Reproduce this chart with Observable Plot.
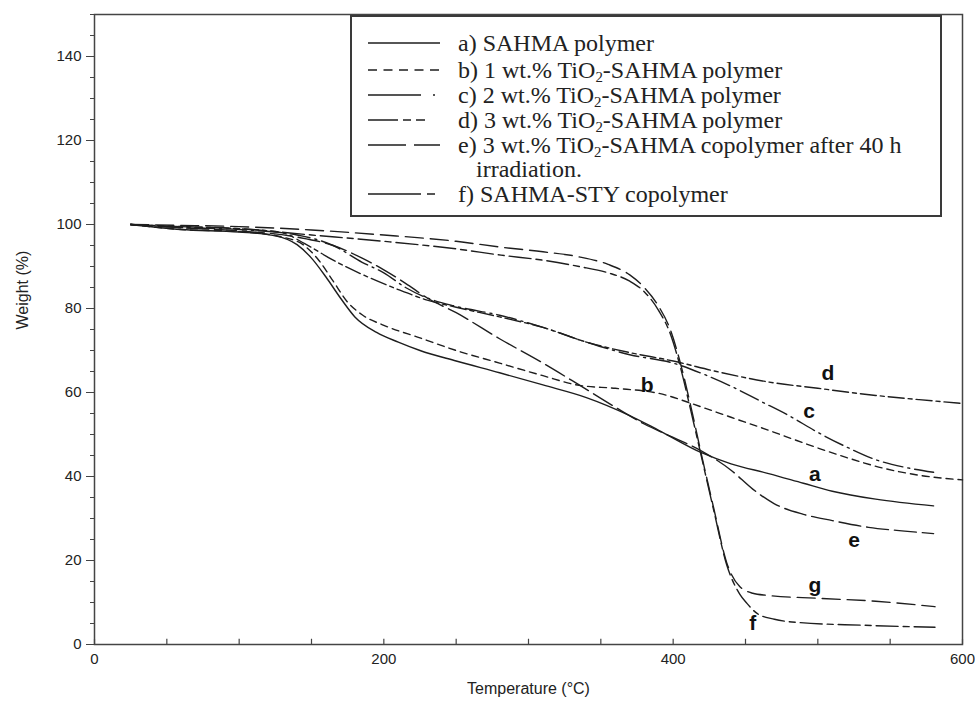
<!DOCTYPE html>
<html>
<head>
<meta charset="utf-8">
<script src="https://cdn.jsdelivr.net/npm/d3@7"></script>
<script src="https://cdn.jsdelivr.net/npm/@observablehq/plot@0.6"></script>
<style>
  body { margin: 0; background: #fff; }
  #wrap { position: relative; width: 975px; height: 702px; overflow: hidden; background: #fff; }
  #legend { position: absolute; left: 350px; top: 15px; width: 588px; height: 198px;
            border: 2px solid #3a3a3a; background: #fff;
            font-family: "Liberation Serif", "Times New Roman", serif; font-size: 24px; color: #222; }
  .row { position: absolute; left: 0; height: 24px; line-height: 24px; white-space: nowrap; }
  .row svg { position: absolute; left: 16px; top: 0; }
  .row span { position: absolute; left: 106px; top: 0; }
  .row sub { font-size: 0.62em; vertical-align: -0.25em; line-height: 0; }
</style>
</head>
<body>
<div id="wrap"><div id="plot"></div><div id="legend"></div></div>
<script>
// ---- data ----
// a) SAHMA polymer
const aT = [25, 60, 100, 125, 140, 150, 160, 170, 180, 195, 210, 225, 250, 280, 310, 340, 370, 390, 420, 440, 466, 490, 510, 540, 580];
const aW = [100, 98.8, 98.2, 97.3, 95.2, 92, 87.5, 82.5, 78, 74.3, 72, 70, 67.5, 64.7, 61.8, 58.8, 54.5, 51, 45.6, 43, 40.7, 38.4, 36.5, 34.6, 33];
// b) 1 wt.% TiO2-SAHMA polymer
const bT = [25, 60, 100, 130, 145, 155, 165, 175, 185, 200, 225, 250, 280, 310, 335, 360, 390, 420, 440, 466, 490, 520, 545, 570, 600];
const bW = [100, 98.8, 98.3, 97, 95, 91.5, 86.5, 81.5, 78.5, 76, 73, 70, 67, 64, 61.7, 61, 59.8, 56.5, 54.1, 51, 48, 44.5, 42, 40.3, 39.2];
// c) 2 wt.% TiO2-SAHMA polymer
const cT = [25, 60, 100, 140, 165, 185, 200, 215, 230, 250, 280, 310, 340, 370, 400, 420, 440, 460, 480, 500, 520, 540, 560, 580];
const cW = [100, 99.3, 98.8, 97.5, 95, 91, 88.5, 85, 82.5, 80.5, 78.4, 75.5, 72, 69, 67, 64.5, 61.5, 58, 54.5, 50.5, 47, 44, 42.2, 41];
// d) 3 wt.% TiO2-SAHMA polymer
const dT = [25, 60, 100, 130, 145, 165, 189, 210, 230, 250, 280, 310, 340, 370, 400, 430, 466, 500, 540, 570, 600];
const dW = [100, 99.5, 99, 98, 95.5, 91.5, 87.5, 84.5, 82, 80.3, 78, 75.5, 72, 69.5, 67.5, 65, 62.5, 61, 59.3, 58.3, 57.4];
// e) 3 wt.% TiO2-SAHMA copolymer after 40 h irradiation
const eT = [25, 60, 100, 140, 165, 185, 200, 215, 230, 250, 280, 310, 335, 360, 380, 400, 420, 440, 455, 470, 490, 510, 535, 560, 580];
const eW = [100, 99.2, 98.5, 97, 95, 92, 89.2, 86, 82.5, 79, 72.8, 67, 61.8, 56.5, 52.5, 49.3, 46, 41.5, 37, 33.5, 31, 29.5, 27.9, 27, 26.4];
// f) SAHMA-STY copolymer
const fT = [25, 60, 100, 150, 200, 250, 281, 310, 335, 355, 370, 380, 390, 398, 405, 412, 420, 428, 437, 446, 451, 458, 470, 488, 530, 581];
const fW = [100, 99.5, 99, 97.5, 96, 94.2, 92.7, 91.5, 90, 88.5, 86.5, 84, 79.5, 74, 66, 56, 44, 32, 19, 12, 9.8, 7.4, 6, 5.2, 4.6, 4.1];
// g) (unlabelled in legend)
const gT = [25, 60, 100, 150, 200, 250, 281, 310, 335, 355, 370, 380, 390, 398, 405, 412, 420, 428, 437, 446, 455, 465, 500, 540, 581];
const gW = [100, 99.8, 99.5, 98.7, 97.5, 96, 94.6, 93.5, 92.3, 90.5, 88, 85, 80.5, 75, 67, 57, 44.5, 32.5, 19.5, 13.8, 12.2, 11.7, 11, 10.3, 9];

// curve letters placed on the chart
const curveLetters = ["a", "b", "c", "d", "e", "f", "g"];
const letterT = [498, 382, 494, 507, 525, 455, 498];
const letterW = [40.5, 61.7, 55.5, 64.6, 24.8, 5.0, 14.1];

// ticks
const xMajorTicks = [0, 200, 400, 600];
const xMinorTicks = [0, 50, 100, 150, 200, 250, 300, 350, 400, 450, 500, 550, 600];
const yMajorTicks = [0, 20, 40, 60, 80, 100, 120, 140];
const yMinorTicks = d3.range(0, 151, 5);

// legend text
const legendKeys = ["a", "b", "c", "d", "e", "", "f"];
const legendLabels = [
  "a) SAHMA polymer",
  "b) 1 wt.% TiO<sub>2</sub>-SAHMA polymer",
  "c) 2 wt.% TiO<sub>2</sub>-SAHMA polymer",
  "d) 3 wt.% TiO<sub>2</sub>-SAHMA polymer",
  "e) 3 wt.% TiO<sub>2</sub>-SAHMA copolymer after 40 h",
  "&nbsp;&nbsp;&nbsp;irradiation.",
  "f) SAHMA-STY copolymer"
];

// ---- styles ----
const plotDash = {a: null, b: "7,5", c: "20,5,2,5", d: "16,4,4,4", e: "22,6", f: "22,5,6,5", g: "18,7"};
const legendDash = {a: null, b: "9,6.5", c: "53,12,2,30", d: "30,5,8,5,9,30", e: "38,8,28,30", f: "53,6,8,30"};

const series = [
  {key: "a", T: aT, W: aW}, {key: "b", T: bT, W: bW}, {key: "c", T: cT, W: cW},
  {key: "d", T: dT, W: dW}, {key: "e", T: eT, W: eW}, {key: "f", T: fT, W: fW},
  {key: "g", T: gT, W: gW}
];
const rows = series.flatMap(s => s.T.map((t, i) => ({key: s.key, t, w: s.W[i]})));
const letters = curveLetters.map((k, i) => ({k, t: letterT[i], w: letterW[i]}));

const ink = "#1e1e1e";
const chart = Plot.plot({
  width: 975,
  height: 702,
  marginLeft: 94,
  marginRight: 13,
  marginTop: 14,
  marginBottom: 58,
  style: {fontFamily: "'Liberation Sans', Arial, sans-serif", fontSize: "15px", color: "#222", background: "#fff"},
  x: {domain: [0, 600]},
  y: {domain: [0, 150]},
  marks: [
    Plot.axisY(yMinorTicks, {tickSize: 4, tickFormat: () => "", label: null, stroke: "#444"}),
    Plot.axisY(yMajorTicks, {tickSize: 8, tickPadding: 5, label: null, stroke: "#444", fontSize: 15}),
    Plot.ruleX(xMinorTicks, {y1: 0, y2: 1.25, stroke: "#444", strokeWidth: 1.2}),
    Plot.axisX(xMajorTicks, {tickSize: 0, tickPadding: 9, label: null, fontSize: 15}),
    Plot.frame({stroke: "#444", strokeWidth: 1.5}),
    ...series.map(s => Plot.line(rows.filter(r => r.key === s.key), {
      x: "t", y: "w", stroke: ink, strokeWidth: 1.4,
      strokeDasharray: plotDash[s.key], curve: "monotone-x"
    })),
    Plot.text(letters, {x: "t", y: "w", text: "k", fontSize: 21, fontWeight: "bold", fill: "#111"}),
    Plot.text(["Weight (%)"], {frameAnchor: "left", rotate: -90, dx: -72, fontSize: 16, fill: "#222"}),
    Plot.text(["Temperature (°C)"], {frameAnchor: "bottom", dy: 49, fontSize: 16, fill: "#222"})
  ]
});
document.getElementById("plot").appendChild(chart);

// ---- legend ----
const legend = document.getElementById("legend");
const rowCenters = [26, 53, 78, 103, 128, 152, 177];
legendLabels.forEach((lab, i) => {
  const row = document.createElement("div");
  row.className = "row";
  row.style.top = (rowCenters[i] - 12) + "px";
  row.style.width = "585px";
  const key = legendKeys[i];
  if (key) {
    const dash = legendDash[key];
    row.innerHTML = `<svg width="74" height="24"><line x1="0" x2="72" y1="12" y2="12" stroke="${ink}" stroke-width="1.4" ${dash ? `stroke-dasharray="${dash}"` : ""}/></svg>`;
  }
  const span = document.createElement("span");
  span.innerHTML = lab;
  row.appendChild(span);
  legend.appendChild(row);
});
</script>
</body>
</html>
